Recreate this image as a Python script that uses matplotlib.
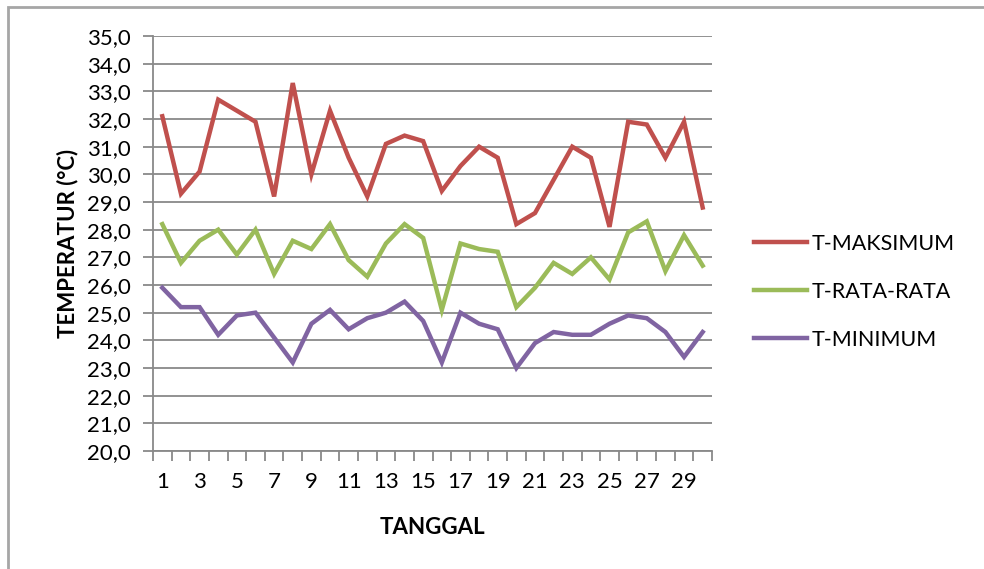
import matplotlib.pyplot as plt
from matplotlib.patches import Rectangle
from matplotlib.ticker import FixedLocator, FuncFormatter

plt.rcParams["font.family"] = ["Lato", "DejaVu Sans"]

########## Data
tanggal = list(range(1, 31))

t_maks = [32.1, 29.3, 30.1, 32.7, 32.3, 31.9, 29.2, 33.3, 30.0, 32.3,
          30.6, 29.2, 31.1, 31.4, 31.2, 29.4, 30.3, 31.0, 30.6, 28.2,
          28.6, 29.8, 31.0, 30.6, 28.1, 31.9, 31.8, 30.6, 31.9, 28.8]

t_rata = [28.2, 26.8, 27.6, 28.0, 27.1, 28.0, 26.4, 27.6, 27.3, 28.2,
          26.9, 26.3, 27.5, 28.2, 27.7, 25.1, 27.5, 27.3, 27.2, 25.2,
          25.9, 26.8, 26.4, 27.0, 26.2, 27.9, 28.3, 26.5, 27.8, 26.7]

t_min = [25.9, 25.2, 25.2, 24.2, 24.9, 25.0, 24.1, 23.2, 24.6, 25.1,
         24.4, 24.8, 25.0, 25.4, 24.7, 23.2, 25.0, 24.6, 24.4, 23.0,
         23.9, 24.3, 24.2, 24.2, 24.6, 24.9, 24.8, 24.3, 23.4, 24.3]

series = [
    ("T-MAKSIMUM", t_maks, "#C0504D"),
    ("T-RATA-RATA", t_rata, "#9BBB59"),
    ("T-MINIMUM", t_min, "#8064A2"),
]

y_ticks = [20 + i for i in range(16)]
x_labels = list(range(1, 30, 2))

########## Figure
fig = plt.figure(figsize=(9.84, 5.69), dpi=100)
fig.patches.append(Rectangle((8 / 984, -0.05), 1.1, 1 - 7 / 569 + 0.05,
                             transform=fig.transFigure, fill=False,
                             edgecolor="#A6A6A6", linewidth=2))

ax = fig.add_axes([153 / 984, 1 - 451 / 569, 559 / 984, 415 / 569])

for name, values, color in series:
    ax.plot(tanggal, values, color=color, linewidth=3.2, label=name,
            solid_joinstyle="miter")

ax.set_xlim(0.5, 30.5)
ax.set_ylim(20, 35)

# y axis
ax.set_yticks(y_ticks)
ax.yaxis.set_major_formatter(FuncFormatter(lambda v, p: f"{v:.1f}".replace(".", ",")))
ax.grid(axis="y", color="#898989", linewidth=1.3)
ax.set_axisbelow(True)

# x axis: tick marks between days, labels on odd days
ax.xaxis.set_major_locator(FixedLocator([i + 0.5 for i in range(0, 31)]))
ax.xaxis.set_major_formatter(FuncFormatter(lambda v, p: ""))
ax.xaxis.set_minor_locator(FixedLocator(x_labels))
ax.xaxis.set_minor_formatter(FuncFormatter(lambda v, p: f"{int(v)}"))
ax.tick_params(axis="x", which="major", length=7, color="#898989", width=1.3)
ax.tick_params(axis="x", which="minor", length=0, labelsize=16, pad=15)
ax.tick_params(axis="y", length=7, color="#898989", width=1.3, labelsize=16, pad=9)

for s in ["top", "right"]:
    ax.spines[s].set_visible(False)
for s in ["left", "bottom"]:
    ax.spines[s].set_color("#898989")
    ax.spines[s].set_linewidth(1.3)

ax.set_xlabel("TANGGAL", fontsize=16, fontweight="bold", labelpad=18)
ax.set_ylabel("TEMPERATUR (°C)", fontsize=16, fontweight="bold", labelpad=6)

fig.legend(loc="upper left", bbox_to_anchor=(745 / 984, 1 - 225 / 569),
           borderaxespad=0, frameon=False, fontsize=15.5, handlelength=2.5,
           handletextpad=0.2, labelspacing=1.3)

fig.savefig("out.png", dpi=100)
